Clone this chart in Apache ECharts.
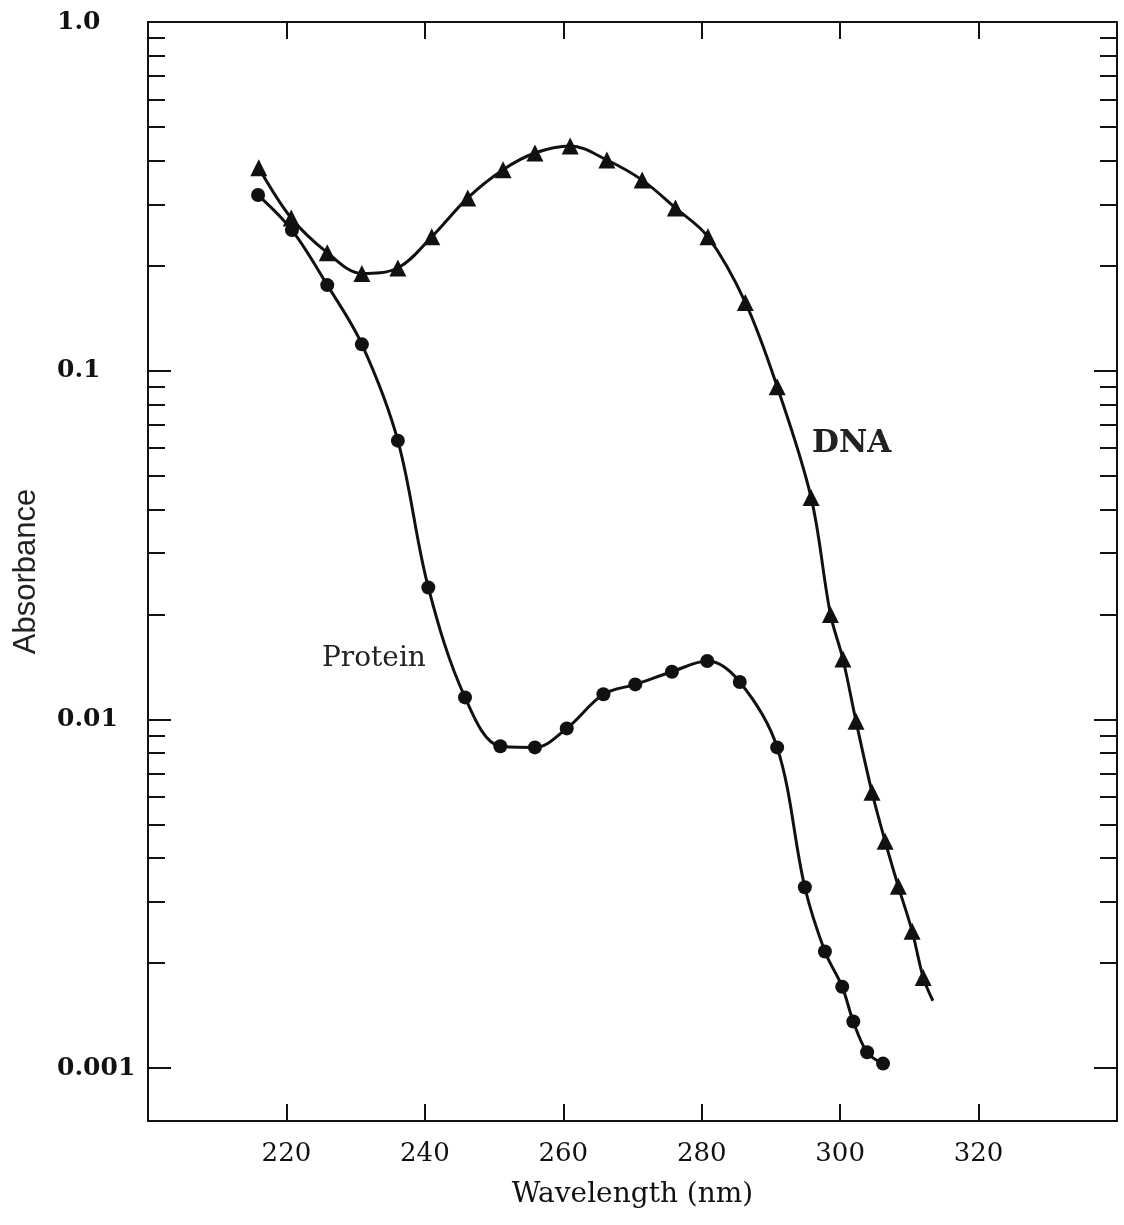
<!DOCTYPE html>
<html>
<head>
<meta charset="utf-8">
<script src="https://cdn.jsdelivr.net/npm/echarts@6/dist/echarts.min.js"></script>
<style>
html,body{margin:0;padding:0;background:#fff;}
#chart{width:1124px;height:1225px;}
</style>
</head>
<body>
<div id="chart"></div>
<script>
// ---- data ----
const dnaWavelength = [216.0, 220.7, 225.9, 230.9, 236.1, 241.0, 246.2, 251.3, 255.9, 261.0, 266.3, 271.4, 276.2, 280.9, 286.3, 290.9, 295.8, 298.6, 300.4, 302.3, 304.6, 306.5, 308.4, 310.4, 312.0];
const dnaAbsorbance = [0.382, 0.274, 0.218, 0.190, 0.197, 0.242, 0.313, 0.377, 0.421, 0.441, 0.402, 0.352, 0.293, 0.242, 0.157, 0.090, 0.0433, 0.0200, 0.0149, 0.00987, 0.00618, 0.00447, 0.00332, 0.00247, 0.00182];
const dnaCurveEnd = [313.4, 0.00156];

const proteinWavelength = [215.9, 220.8, 225.9, 230.9, 236.1, 240.5, 245.8, 250.9, 255.9, 260.5, 265.8, 270.4, 275.7, 280.8, 285.5, 290.9, 294.9, 297.8, 300.3, 301.9, 303.9, 306.2];
const proteinAbsorbance = [0.319, 0.253, 0.176, 0.119, 0.0630, 0.0239, 0.01156, 0.00837, 0.00831, 0.00942, 0.0118, 0.0126, 0.0137, 0.0147, 0.0128, 0.00831, 0.00330, 0.00216, 0.00171, 0.00136, 0.00111, 0.00103];

const xTicks = [220, 240, 260, 280, 300, 320];
const yMajorTicks = [0.001, 0.01, 0.1, 1];
const yMajorLabels = ['0.001', '0.01', '0.1', '1.0'];
const yMinorTicks = [
  0.002, 0.003, 0.004, 0.005, 0.006, 0.007, 0.008, 0.009,
  0.02, 0.03, 0.04, 0.05, 0.06, 0.07, 0.08, 0.09,
  0.2, 0.3, 0.4, 0.5, 0.6, 0.7, 0.8, 0.9
];
const xRange = [200, 340];
const yRange = [0.000705, 1];

// ---- build ----
const ink = '#111';
const serif = 'DejaVu Serif';

function yAx(position, ticks, len, withLine, withLabels) {
  return {
    type: 'log', logBase: 10, min: yRange[0], max: yRange[1], position: position, offset: 0,
    axisLine: { show: withLine, lineStyle: { color: ink, width: 2 } },
    axisTick: { show: true, inside: true, length: len, customValues: ticks, lineStyle: { color: ink, width: 2 } },
    axisLabel: withLabels ? {
      show: true, customValues: yMajorTicks, align: 'left', margin: 91,
      fontFamily: serif, fontWeight: 'bold', fontSize: 25, color: ink,
      formatter: v => { const i = yMajorTicks.findIndex(t => Math.abs(Math.log10(t) - Math.log10(v)) < 1e-6); return i >= 0 ? yMajorLabels[i] : ''; }
    } : { show: false },
    splitLine: { show: false },
    name: withLabels ? 'Absorbance' : '',
    nameLocation: 'middle', nameRotate: 90, nameGap: 106,
    nameTextStyle: { fontFamily: 'Liberation Sans', fontSize: 31, color: '#222' }
  };
}

function xAx(position, withLabels) {
  return {
    type: 'value', min: xRange[0], max: xRange[1], interval: 20, position: position,
    axisLine: { show: true, lineStyle: { color: ink, width: 2 } },
    axisTick: { show: true, inside: true, length: 17, customValues: xTicks, lineStyle: { color: ink, width: 2 } },
    axisLabel: withLabels ? { show: true, customValues: xTicks, margin: 20, fontFamily: serif, fontSize: 26, color: ink } : { show: false },
    splitLine: { show: false },
    name: withLabels ? 'Wavelength (nm)' : '',
    nameLocation: 'middle', nameGap: 60,
    nameTextStyle: { fontFamily: serif, fontSize: 28, color: ink }
  };
}

const dnaData = dnaWavelength.map((w, i) => [w, dnaAbsorbance[i]]);
dnaData.push({ value: dnaCurveEnd, symbol: 'none' });
const proteinData = proteinWavelength.map((w, i) => [w, proteinAbsorbance[i]]);

const chart = echarts.init(document.getElementById('chart'), null, { renderer: 'canvas' });
chart.setOption({
  backgroundColor: '#fff',
  animation: false,
  grid: { left: 148, right: 7, top: 22, bottom: 104 },
  xAxis: [xAx('bottom', true), xAx('top', false)],
  yAxis: [
    yAx('left', yMajorTicks, 23, true, true),
    yAx('left', yMinorTicks, 17, false, false),
    yAx('right', yMajorTicks, 23, true, false),
    yAx('right', yMinorTicks, 17, false, false)
  ],
  series: [
    {
      name: 'DNA', type: 'line', xAxisIndex: 0, yAxisIndex: 0, smooth: 0.35,
      data: dnaData, symbol: 'triangle', symbolSize: 17, showAllSymbol: true,
      lineStyle: { color: ink, width: 3 }, itemStyle: { color: ink }
    },
    {
      name: 'Protein', type: 'line', xAxisIndex: 0, yAxisIndex: 0, smooth: 0.35,
      data: proteinData, symbol: 'circle', symbolSize: 14, showAllSymbol: true,
      lineStyle: { color: ink, width: 3 }, itemStyle: { color: ink }
    }
  ],
  graphic: [
    { type: 'text', left: 812, top: 428, style: { text: 'DNA', font: 'bold 31px "DejaVu Serif"', fill: '#222' } },
    { type: 'text', left: 322, top: 645, style: { text: 'Protein', font: '28px "DejaVu Serif"', fill: '#222' } }
  ]
});
</script>
</body>
</html>
